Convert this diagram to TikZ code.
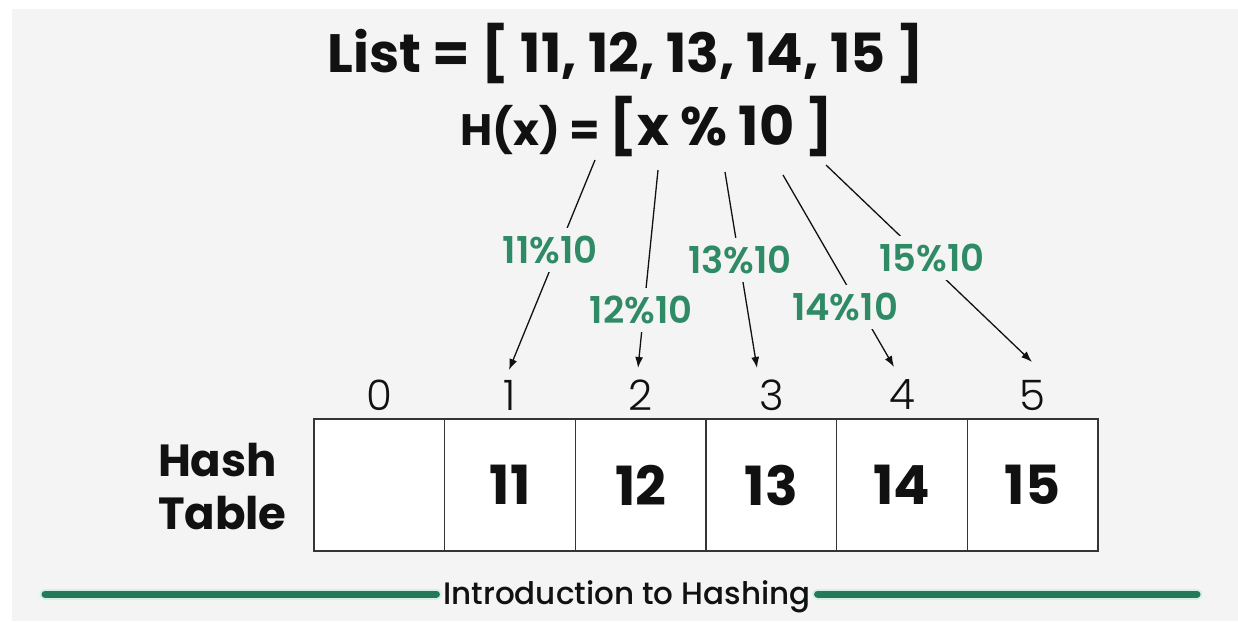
\documentclass[tikz,border=0pt]{standalone}
\usepackage{fontspec}
\setmainfont{Poppins}
\newfontfamily\poplight{Poppins Light}
\newfontfamily\popsemi{Poppins SemiBold}
\newfontfamily\popmed{Poppins Medium}
\usetikzlibrary{arrows.meta}
\definecolor{panel}{HTML}{F4F4F4}
\definecolor{hashgreen}{HTML}{2F8A66}
\definecolor{bandgreen}{HTML}{23795A}
\definecolor{bandglow}{HTML}{D3F0E4}
\definecolor{ink}{HTML}{111111}

\begin{document}
\begin{tikzpicture}[x=1pt,y=-1pt,
  every node/.style={inner sep=0pt, outer sep=0pt, text=ink},
  titletext/.style={font=\bfseries\fontsize{54}{58}\selectfont, anchor=base},
  cell/.style={draw=ink!85, line width=1.2pt, fill=white,
    minimum width=130.67pt, minimum height=132pt,
    font=\bfseries\fontsize{54}{58}\selectfont},
  index/.style={font=\poplight\fontsize{42}{46}\selectfont},
  modlabel/.style={font=\popsemi\fontsize{37}{40}\selectfont, text=hashgreen,
    fill=panel, inner xsep=4pt, inner ysep=8pt},
  maparrow/.style={draw=ink, line width=1.3pt, -{Latex[length=11pt,width=8pt]}},
  band/.style={draw=bandgreen, line width=7pt, line cap=round},
  bandhalo/.style={draw=bandglow, line width=11pt, line cap=round}
]
\useasboundingbox (0,0) rectangle (1238,621);
\fill[white] (0,0) rectangle (1238,621);
\fill[panel] (12,9) rectangle (1238,621);

% headings
\node[titletext] (list) at (626,72) {List = [ 11, 12, 13, 14, 15 ]};
\node[anchor=base] (hash) at (647,145)
  {\bfseries\fontsize{44}{48}\selectfont H(x) = \fontsize{54}{58}\selectfont[x \% 10 ]};

% hash table cells with their indices
\foreach \i in {0,...,5} {
  \node[cell] (c\i) at ({379.33+130.67*\i},485) {};
  \node[index] (i\i) at ({379.33+130.67*\i},395) {\i};
}
\foreach \i/\v in {1/11,2/12,3/13,4/14,5/15}
  \node[font=\bfseries\fontsize{54}{58}\selectfont] (v\i) at (c\i) {\v};

\node[anchor=west, align=left, font=\bfseries\fontsize{45}{53}\selectfont]
  (tbl) at (158,487) {Hash\\Table};

% arrows from the hash function to the slots
\coordinate (s1) at (595,160); \coordinate (t1) at (509,370);
\coordinate (s2) at (658,170); \coordinate (t2) at (638,368);
\coordinate (s3) at (725,172); \coordinate (t3) at (757,368);
\coordinate (s4) at (783,175); \coordinate (t4) at (894,367);
\coordinate (s5) at (826,165); \coordinate (t5) at (1032,362);
\foreach \k in {1,...,5}
  \draw[maparrow] (s\k) -- (t\k);

\node[modlabel] (m1) at (550,250) {11\%10};
\node[modlabel] (m2) at (641,310) {12\%10};
\node[modlabel] (m3) at (740,260) {13\%10};
\node[modlabel] (m4) at (845,307) {14\%10};
\node[modlabel] (m5) at (932,258) {15\%10};

% footer band
\node[font=\popmed\fontsize{31}{34}\selectfont, anchor=base, inner xsep=7pt]
  (intro) at (627,604) {Introduction to Hashing};
\coordinate (bl) at (45,594);
\coordinate (br) at (1197,594);
\draw[bandhalo] (bl) -- (bl -| intro.west);
\draw[bandhalo] (br -| intro.east) -- (br);
\draw[band] (bl) -- (bl -| intro.west);
\draw[band] (br -| intro.east) -- (br);
\end{tikzpicture}
\end{document}
